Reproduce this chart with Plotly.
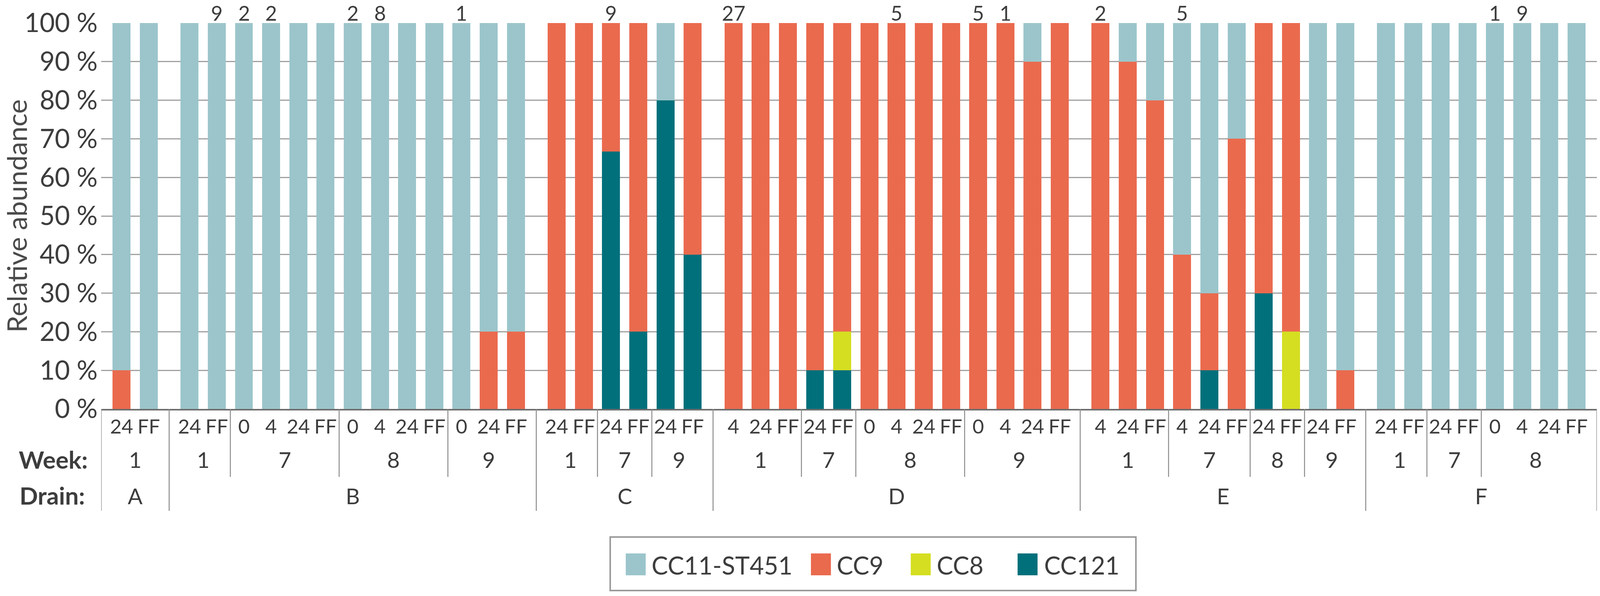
import plotly.graph_objects as go

# ---------------- data ----------------
drain = (["A"] * 2 + ["B"] * 13 + ["C"] * 6 + ["D"] * 13 + ["E"] * 10 + ["F"] * 8)
week = [1, 1,
        1, 1, 7, 7, 7, 7, 8, 8, 8, 8, 9, 9, 9,
        1, 1, 7, 7, 9, 9,
        1, 1, 1, 7, 7, 8, 8, 8, 8, 9, 9, 9, 9,
        1, 1, 1, 7, 7, 7, 8, 8, 9, 9,
        1, 1, 7, 7, 8, 8, 8, 8]
time_point = ["24", "FF",
              "24", "FF", "0", "4", "24", "FF", "0", "4", "24", "FF", "0", "24", "FF",
              "24", "FF", "24", "FF", "24", "FF",
              "4", "24", "FF", "24", "FF", "0", "4", "24", "FF", "0", "4", "24", "FF",
              "4", "24", "FF", "4", "24", "FF", "24", "FF", "24", "FF",
              "24", "FF", "24", "FF", "0", "4", "24", "FF"]

cc121 = ([0, 0]
         + [0] * 13
         + [0, 0, 66.7, 20, 80, 40]
         + [0, 0, 0, 10, 10, 0, 0, 0, 0, 0, 0, 0, 0]
         + [0, 0, 0, 0, 10, 0, 30, 0, 0, 0]
         + [0] * 8)
cc8 = ([0, 0]
       + [0] * 13
       + [0] * 6
       + [0, 0, 0, 0, 10, 0, 0, 0, 0, 0, 0, 0, 0]
       + [0, 0, 0, 0, 0, 0, 0, 20, 0, 0]
       + [0] * 8)
cc9 = ([10, 0]
       + [0] * 11 + [20, 20]
       + [100, 100, 33.3, 80, 0, 60]
       + [100, 100, 100, 90, 80, 100, 100, 100, 100, 100, 100, 90, 100]
       + [100, 90, 80, 40, 20, 70, 70, 80, 0, 10]
       + [0] * 8)
cc11 = ([90, 100]
        + [100] * 11 + [80, 80]
        + [0, 0, 0, 0, 20, 0]
        + [0] * 11 + [10, 0]
        + [0, 10, 20, 60, 70, 30, 0, 0, 100, 90]
        + [100] * 8)

top_counts = ["", "", "", "9", "2", "2", "", "", "2", "8", "", "", "1", "", "",
              "", "", "9", "", "", "",
              "27", "", "", "", "", "", "5", "", "", "5", "1", "", "",
              "2", "", "", "5", "", "", "", "", "", "",
              "", "", "", "", "1", "9", "", ""]

series_names = ["CC121", "CC8", "CC9", "CC11-ST451"]
series_values = [cc121, cc8, cc9, cc11]
series_colors = ["#01707B", "#D5DE21", "#EA6A4E", "#9BC5CB"]
legend_order = ["CC11-ST451", "CC9", "CC8", "CC121"]

# ---------------- layout helpers ----------------
# the browser viewport is 4096 px wide; reference measured on a 4328 px canvas
W, H = 4096, 1526
SX = W / 4328
REF_L, REF_R, REF_T, REF_B = 274, 4320, 59, 1047
ML = round(REF_L * SX)
MR = W - round(REF_R * SX)
MT = REF_T
MB = H - REF_B
FONT = "Lato, 'Noto Sans', sans-serif"
TXT = "#3d3d3d"
SEP = "#8c8c8c"


def px_x(px):  # reference x pixel -> paper fraction
    return (px - REF_L) / (REF_R - REF_L)


def px_y(py):  # reference y pixel -> paper fraction
    return (REF_B - py) / (REF_B - REF_T)


# bar positions: consecutive, with half a slot extra between drains
pos = []
g = -1
prev = None
for i, d in enumerate(drain):
    if d != prev:
        g += 1
        prev = d
    pos.append(i + 0.5 * g)
x_lo, x_hi = pos[0] - 0.75, pos[-1] + 0.75

fig = go.Figure()
for name, vals, col in zip(series_names, series_values, series_colors):
    fig.add_trace(go.Bar(x=pos, y=vals, name=name, width=0.66,
                         marker=dict(color=col, line=dict(width=0)),
                         showlegend=False))

shapes = []
annotations = []

# category separators below the axis
for xe in (x_lo, x_hi):
    shapes.append(dict(type="line", xref="x", yref="paper", x0=xe, x1=xe,
                       y0=0, y1=px_y(1308), line=dict(color=SEP, width=2.5)))
for i in range(len(pos) - 1):
    if drain[i] != drain[i + 1] or week[i] != week[i + 1]:
        xm = (pos[i] + pos[i + 1]) / 2
        long_ = drain[i] != drain[i + 1]
        shapes.append(dict(type="line", xref="x", yref="paper", x0=xm, x1=xm,
                           y0=0, y1=px_y(1308 if long_ else 1221),
                           line=dict(color=SEP, width=2.5)))

# week labels
runs = []
start = 0
for i in range(1, len(pos) + 1):
    if i == len(pos) or drain[i] != drain[start] or week[i] != week[start]:
        runs.append((start, i - 1))
        start = i
for a, b in runs:
    annotations.append(dict(x=(pos[a] + pos[b]) / 2, y=px_y(1176), xref="x", yref="paper",
                            text=str(week[a]), showarrow=False, yanchor="middle",
                            font=dict(size=56, color=TXT, family=FONT)))
# drain labels
for d in dict.fromkeys(drain):
    idx = [i for i, v in enumerate(drain) if v == d]
    annotations.append(dict(x=(pos[idx[0]] + pos[idx[-1]]) / 2, y=px_y(1269), xref="x",
                            yref="paper", text=d, showarrow=False, yanchor="middle",
                            font=dict(size=56, color=TXT, family=FONT)))
annotations.append(dict(x=px_x(240), y=px_y(1176), xref="paper", yref="paper",
                        text="<b>Week:</b>", showarrow=False, xanchor="right", yanchor="middle",
                        font=dict(size=62, color=TXT, family=FONT)))
annotations.append(dict(x=px_x(232), y=px_y(1268), xref="paper", yref="paper",
                        text="<b>Drain:</b>", showarrow=False, xanchor="right", yanchor="middle",
                        font=dict(size=62, color=TXT, family=FONT)))

# counts above bars
for p, t in zip(pos, top_counts):
    if t:
        annotations.append(dict(x=p, y=px_y(1), xref="x", yref="paper", text=t,
                                showarrow=False, yanchor="top", borderpad=0,
                                font=dict(size=52, color=TXT, family=FONT)))

# legend drawn with large swatches
shapes.append(dict(type="rect", xref="paper", yref="paper", x0=px_x(1651), x1=px_x(3073),
                   y0=px_y(1512), y1=px_y(1375), line=dict(color="#9a9a9a", width=4),
                   fillcolor="white"))
swatch_x = [1693, 2194, 2464, 2753]
label_x = [1761, 2262, 2532, 2823]
for name, sx_, tx in zip(legend_order, swatch_x, label_x):
    col = series_colors[series_names.index(name)]
    shapes.append(dict(type="rect", xref="paper", yref="paper", x0=px_x(sx_), x1=px_x(sx_ + 54),
                       y0=px_y(1473), y1=px_y(1417), line=dict(width=0), fillcolor=col))
    annotations.append(dict(x=px_x(tx), y=px_y(1446), xref="paper", yref="paper", text=name,
                            showarrow=False, xanchor="left", yanchor="middle",
                            font=dict(size=63, color=TXT, family=FONT)))

fig.update_layout(
    width=W, height=H,
    margin=dict(l=ML, r=MR, t=MT, b=MB, autoexpand=False),
    barmode="stack", bargap=0,
    plot_bgcolor="white", paper_bgcolor="white",
    font=dict(family=FONT, color=TXT),
    showlegend=False,
    shapes=shapes, annotations=annotations,
    xaxis=dict(range=[x_lo, x_hi], tickmode="array", tickvals=pos, ticktext=time_point,
               showgrid=False, zeroline=False, showline=True, linecolor="#6e6e6e",
               linewidth=4, ticks="", tickfont=dict(size=51, color=TXT, family=FONT),
               ticklabelstandoff=-2, tickangle=0),
    yaxis=dict(range=[0, 100], dtick=10, ticksuffix=" %", showgrid=True,
               gridcolor="#a0a0a0", gridwidth=3, zeroline=False, showline=False,
               ticks="", tickfont=dict(size=67, color=TXT, family=FONT),
               ticklabelstandoff=8,
               title=dict(text="Relative abundance", standoff=0,
                          font=dict(size=70, color="#4a4a4a", family=FONT))),
)

fig.write_html("out.html", config={"displayModeBar": False},
               post_script="document.body.style.margin='0';"
                           "document.body.style.overflow='hidden';")
